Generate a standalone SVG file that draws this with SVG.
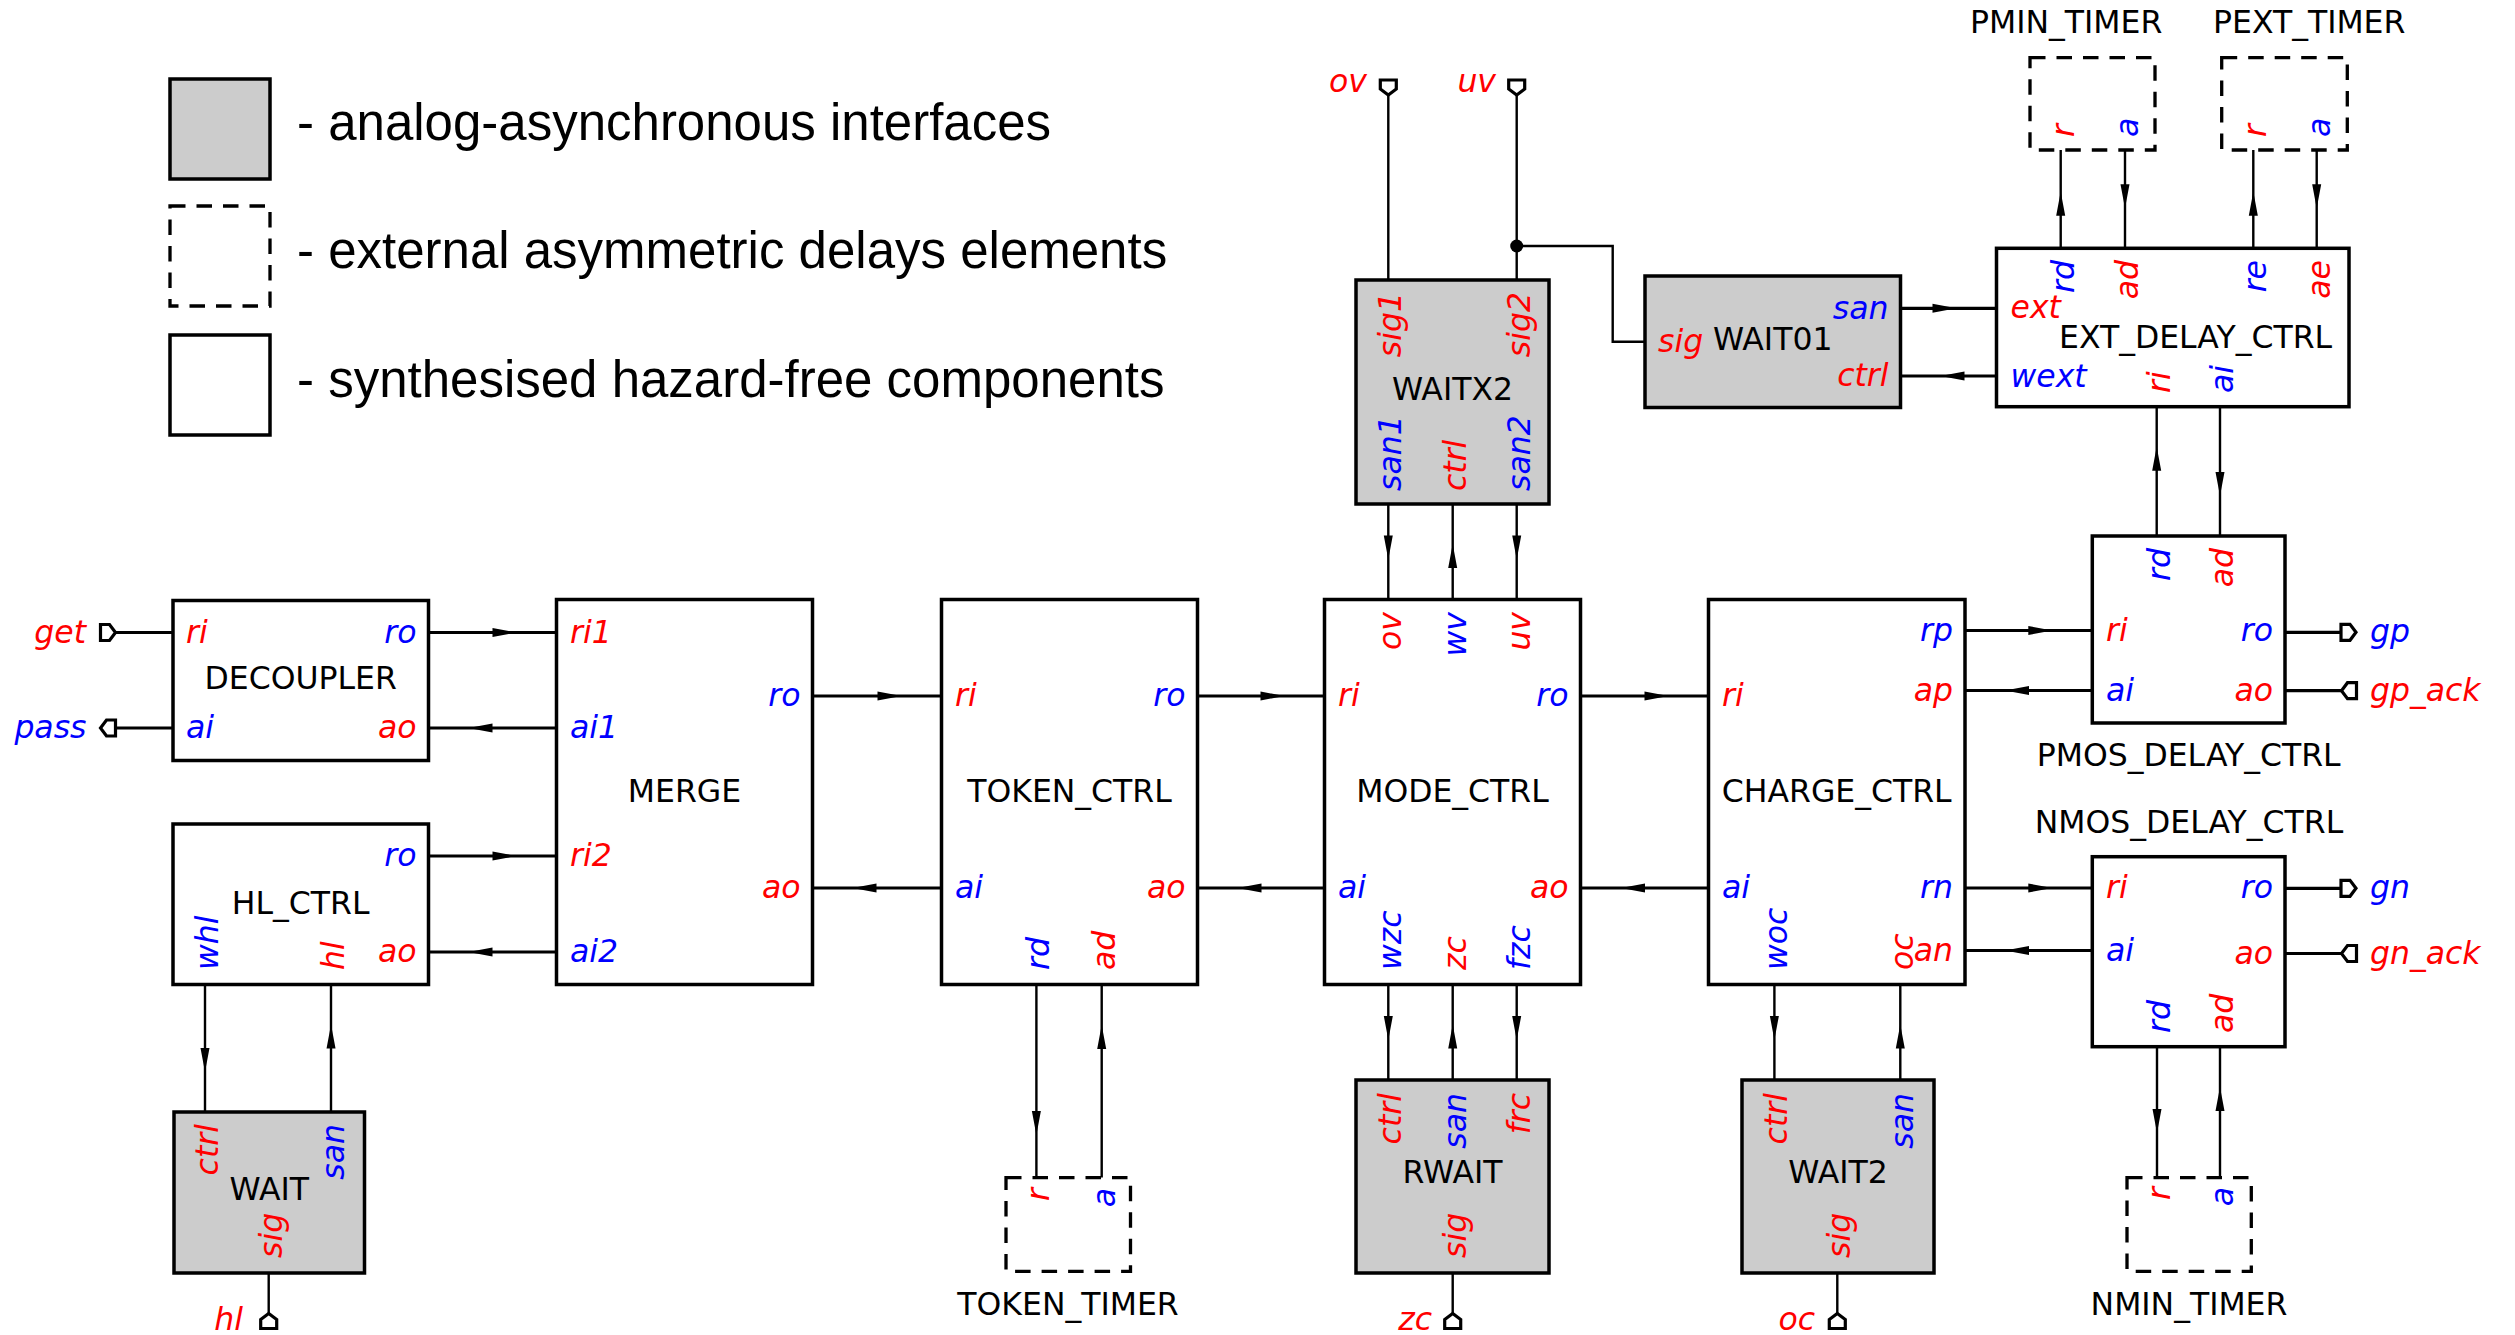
<svg xmlns="http://www.w3.org/2000/svg" xmlns:xlink="http://www.w3.org/1999/xlink" width="2515" height="1335" viewBox="0 0 2515 1335">
<style>
.box{fill:#fff;stroke:#000;stroke-width:3.5}
.g{fill:#ccc}
.d{fill:none;stroke:#000;stroke-width:3.3;stroke-dasharray:15.5 11}
.h{stroke:#000;stroke-width:3.2;fill:none}
.v{stroke:#000;stroke-width:2.4;fill:none}
.p{font-family:'DejaVu Sans',sans-serif;font-style:italic;font-size:31.5px}
.n{font-family:'DejaVu Sans',sans-serif;font-size:31.5px;text-anchor:middle}
.ns{font-family:'DejaVu Sans',sans-serif;font-size:31.5px}
.lg{font-family:'Liberation Sans',Arial,sans-serif;font-size:51px}
.r{fill:#f00}
.b{fill:#00f}
.e{text-anchor:end}
</style>
<defs>
<path id="ah" d="M0,0 L-24,-4.5 L-24,4.5 Z" fill="#000"/>
<path id="pt" d="M0,-8 H9 L15,0 L9,8 H0 Z" fill="#fff" stroke="#000" stroke-width="3.2"/>
</defs>
<rect width="2515" height="1335" fill="#fff"/>

<g id="legend">
<rect class="box g" x="170" y="79" width="100" height="100"/>
<rect class="d" x="170" y="206" width="100" height="100"/>
<rect class="box" x="170" y="335" width="100" height="100"/>
<text class="lg" x="297" y="140">- analog-asynchronous interfaces</text>
<text class="lg" x="297" y="268">- external asymmetric delays elements</text>
<text class="lg" x="297" y="397">- synthesised hazard-free components</text>
</g>

<g id="connectors">
<path class="h" d="M115.5,632.5H173M115.5,728H173M428.5,632.5H556.5M428.5,728H556.5M428.5,856H556.5M428.5,952H556.5M812.5,696H941.5M812.5,888H941.5M1197.5,696H1324.5M1197.5,888H1324.5M1580.5,696H1708.5M1580.5,888H1708.5M1965,630.5H2092.3M1965,690.5H2092.3M1965,888H2092.3M1965,950.5H2092.3M1900.5,308.3H1996.5M1900.5,376H1996.5M2285,632.3H2341M2285,690.7H2342M2285,888.3H2341M2285,953.5H2342"/>
<path class="v" d="M1388.3,95V280M1516.7,95V280M1516.7,246H1612.7V341.7H1645M1388.3,504V599.5M1452.7,504V599.5M1516.7,504V599.5M2060.7,150V248.3M2125,150V248.3M2253.3,150V248.3M2316.7,150V248.3M2156.7,406.7V536M2220,406.7V536M2157,1046.7V1177.7M2220,1046.7V1177.7M205,984.5V1112M331,984.5V1112M268.7,1273V1314M1036.4,984.5V1177.5M1101.7,984.5V1177.5M1388.3,984.5V1080M1452.7,984.5V1080M1516.7,984.5V1080M1452.7,1273V1314M1774.4,984.5V1080M1900.3,984.5V1080M1837.3,1273V1314"/>
<circle cx="1516.7" cy="246" r="6.5" fill="#000"/>
<use xlink:href="#ah" transform="translate(516.5,632.5)"/>
<use xlink:href="#ah" transform="translate(468.5,728) rotate(180)"/>
<use xlink:href="#ah" transform="translate(516.5,856)"/>
<use xlink:href="#ah" transform="translate(468.5,952) rotate(180)"/>
<use xlink:href="#ah" transform="translate(901.5,696)"/>
<use xlink:href="#ah" transform="translate(852.5,888) rotate(180)"/>
<use xlink:href="#ah" transform="translate(1284.5,696)"/>
<use xlink:href="#ah" transform="translate(1237.5,888) rotate(180)"/>
<use xlink:href="#ah" transform="translate(1668.5,696)"/>
<use xlink:href="#ah" transform="translate(1621,888) rotate(180)"/>
<use xlink:href="#ah" transform="translate(2052.3,630.5)"/>
<use xlink:href="#ah" transform="translate(2005,690.5) rotate(180)"/>
<use xlink:href="#ah" transform="translate(2052.3,888)"/>
<use xlink:href="#ah" transform="translate(2005,950.5) rotate(180)"/>
<use xlink:href="#ah" transform="translate(1956.5,308.3)"/>
<use xlink:href="#ah" transform="translate(1940.5,376) rotate(180)"/>
<use xlink:href="#ah" transform="translate(1388.3,559.5) rotate(90)"/>
<use xlink:href="#ah" transform="translate(1452.7,544) rotate(-90)"/>
<use xlink:href="#ah" transform="translate(1516.7,559.5) rotate(90)"/>
<use xlink:href="#ah" transform="translate(2060.7,191.7) rotate(-90)"/>
<use xlink:href="#ah" transform="translate(2125,208.3) rotate(90)"/>
<use xlink:href="#ah" transform="translate(2253.3,191.7) rotate(-90)"/>
<use xlink:href="#ah" transform="translate(2316.7,208.3) rotate(90)"/>
<use xlink:href="#ah" transform="translate(2156.7,446.7) rotate(-90)"/>
<use xlink:href="#ah" transform="translate(2220,496) rotate(90)"/>
<use xlink:href="#ah" transform="translate(2157,1133) rotate(90)"/>
<use xlink:href="#ah" transform="translate(2220,1087) rotate(-90)"/>
<use xlink:href="#ah" transform="translate(205,1072) rotate(90)"/>
<use xlink:href="#ah" transform="translate(331,1024.5) rotate(-90)"/>
<use xlink:href="#ah" transform="translate(1036.4,1135) rotate(90)"/>
<use xlink:href="#ah" transform="translate(1101.7,1025) rotate(-90)"/>
<use xlink:href="#ah" transform="translate(1388.3,1040) rotate(90)"/>
<use xlink:href="#ah" transform="translate(1452.7,1024.5) rotate(-90)"/>
<use xlink:href="#ah" transform="translate(1516.7,1040) rotate(90)"/>
<use xlink:href="#ah" transform="translate(1774.4,1040) rotate(90)"/>
<use xlink:href="#ah" transform="translate(1900.3,1024.5) rotate(-90)"/>
</g>

<g id="ports">
<use xlink:href="#pt" transform="translate(100.5,632.5)"/>
<use xlink:href="#pt" transform="translate(115.5,728) rotate(180)"/>
<use xlink:href="#pt" transform="translate(1388.3,80) rotate(90)"/>
<use xlink:href="#pt" transform="translate(1516.7,80) rotate(90)"/>
<use xlink:href="#pt" transform="translate(268.7,1328.5) rotate(-90)"/>
<use xlink:href="#pt" transform="translate(1452.7,1328.5) rotate(-90)"/>
<use xlink:href="#pt" transform="translate(1837.3,1328.5) rotate(-90)"/>
<use xlink:href="#pt" transform="translate(2341,632.3)"/>
<use xlink:href="#pt" transform="translate(2356.5,690.7) rotate(180)"/>
<use xlink:href="#pt" transform="translate(2341,888.3)"/>
<use xlink:href="#pt" transform="translate(2356.5,953.5) rotate(180)"/>
<text class="p r e" x="86" y="642.5">get</text>
<text class="p b e" x="86.5" y="738">pass</text>
<text class="p r e" x="1367" y="92">ov</text>
<text class="p r e" x="1496" y="92">uv</text>
<text class="p r e" x="243" y="1330">hl</text>
<text class="p r e" x="1432" y="1330">zc</text>
<text class="p r e" x="1815" y="1330">oc</text>
<text class="p b" x="2370" y="642">gp</text>
<text class="p r" x="2370" y="700.7">gp_ack</text>
<text class="p b" x="2370" y="898">gn</text>
<text class="p r" x="2370" y="963.5">gn_ack</text>
</g>

<g id="DECOUPLER">
<rect class="box" x="173" y="600.5" width="255.5" height="160"/>
<text class="n" x="300.7" y="689">DECOUPLER</text>
<text class="p r" x="186" y="642.5">ri</text>
<text class="p b" x="186" y="738">ai</text>
<text class="p b e" x="416.5" y="642.5">ro</text>
<text class="p r e" x="416.5" y="738">ao</text>
</g>

<g id="HL_CTRL">
<rect class="box" x="173" y="824" width="255.5" height="160.5"/>
<text class="n" x="300.7" y="914">HL_CTRL</text>
<text class="p b e" x="416.5" y="866">ro</text>
<text class="p r e" x="416.5" y="962">ao</text>
<text class="p b" transform="translate(218,970) rotate(-90)">whl</text>
<text class="p r" transform="translate(344,970) rotate(-90)">hl</text>
</g>

<g id="WAIT">
<rect class="box g" x="174" y="1112" width="190.5" height="161"/>
<text class="n" x="269.3" y="1200">WAIT</text>
<text class="p r e" transform="translate(218,1124) rotate(-90)">ctrl</text>
<text class="p b e" transform="translate(344,1124) rotate(-90)">san</text>
<text class="p r" transform="translate(282,1258) rotate(-90)">sig</text>
</g>

<g id="MERGE">
<rect class="box" x="556.5" y="599.5" width="256" height="385"/>
<text class="n" x="684.5" y="801.5">MERGE</text>
<text class="p r" x="570" y="642.5">ri1</text>
<text class="p b" x="570" y="738">ai1</text>
<text class="p r" x="570" y="866">ri2</text>
<text class="p b" x="570" y="962">ai2</text>
<text class="p b e" x="800.5" y="706">ro</text>
<text class="p r e" x="800.5" y="898">ao</text>
</g>

<g id="TOKEN_CTRL">
<rect class="box" x="941.5" y="599.5" width="256" height="385"/>
<text class="n" x="1069.5" y="801.5">TOKEN_CTRL</text>
<text class="p r" x="955" y="706">ri</text>
<text class="p b" x="955" y="898">ai</text>
<text class="p b e" x="1185.5" y="706">ro</text>
<text class="p r e" x="1185.5" y="898">ao</text>
<text class="p b" transform="translate(1049.4,970) rotate(-90)">rd</text>
<text class="p r" transform="translate(1114.7,970) rotate(-90)">ad</text>
</g>

<g id="TOKEN_TIMER">
<rect class="d" x="1006" y="1177.7" width="124.5" height="93.6"/>
<text class="p r e" transform="translate(1049.4,1188) rotate(-90)">r</text>
<text class="p b e" transform="translate(1114.7,1188) rotate(-90)">a</text>
<text class="n" x="1068" y="1315">TOKEN_TIMER</text>
</g>

<g id="MODE_CTRL">
<rect class="box" x="1324.5" y="599.5" width="256" height="385"/>
<text class="n" x="1452.5" y="801.5">MODE_CTRL</text>
<text class="p r" x="1338" y="706">ri</text>
<text class="p b" x="1338" y="898">ai</text>
<text class="p b e" x="1568.5" y="706">ro</text>
<text class="p r e" x="1568.5" y="898">ao</text>
<text class="p r e" transform="translate(1401.3,612) rotate(-90)">ov</text>
<text class="p b e" transform="translate(1465.7,612) rotate(-90)">wv</text>
<text class="p r e" transform="translate(1529.7,612) rotate(-90)">uv</text>
<text class="p b" transform="translate(1401.3,970) rotate(-90)">wzc</text>
<text class="p r" transform="translate(1465.7,970) rotate(-90)">zc</text>
<text class="p b" transform="translate(1529.7,970) rotate(-90)">fzc</text>
</g>

<g id="WAITX2">
<rect class="box g" x="1356" y="280" width="193" height="224"/>
<text class="n" x="1452.5" y="400">WAITX2</text>
<text class="p r e" transform="translate(1401.3,292) rotate(-90)">sig1</text>
<text class="p r e" transform="translate(1529.7,292) rotate(-90)">sig2</text>
<text class="p b" transform="translate(1401.3,491) rotate(-90)">san1</text>
<text class="p r" transform="translate(1465.7,491) rotate(-90)">ctrl</text>
<text class="p b" transform="translate(1529.7,491) rotate(-90)">san2</text>
</g>

<g id="WAIT01">
<rect class="box g" x="1645" y="276" width="255.5" height="131.5"/>
<text class="n" x="1772.7" y="350">WAIT01</text>
<text class="p r" x="1658" y="352">sig</text>
<text class="p b e" x="1888.5" y="318.5">san</text>
<text class="p r e" x="1888.5" y="386">ctrl</text>
</g>

<g id="EXT_DELAY_CTRL">
<rect class="box" x="1996.5" y="248.3" width="352.5" height="158.4"/>
<text class="ns" x="2059" y="348.3">EXT_DELAY_CTRL</text>
<text class="p r" x="2010.5" y="318.3">ext</text>
<text class="p b" x="2010.5" y="386.5">wext</text>
<text class="p b e" transform="translate(2073.7,260) rotate(-90)">rd</text>
<text class="p r e" transform="translate(2138,260) rotate(-90)">ad</text>
<text class="p b e" transform="translate(2266.3,260) rotate(-90)">re</text>
<text class="p r e" transform="translate(2329.7,260) rotate(-90)">ae</text>
<text class="p r" transform="translate(2169.7,393) rotate(-90)">ri</text>
<text class="p b" transform="translate(2233,393) rotate(-90)">ai</text>
</g>

<g id="PMIN_TIMER">
<rect class="d" x="2030" y="57.7" width="125" height="92.3"/>
<text class="p r" transform="translate(2073.7,137) rotate(-90)">r</text>
<text class="p b" transform="translate(2138,137) rotate(-90)">a</text>
<text class="ns" x="1970" y="33.3">PMIN_TIMER</text>
</g>

<g id="PEXT_TIMER">
<rect class="d" x="2221.7" y="57.7" width="125.6" height="92.3"/>
<text class="p r" transform="translate(2266.3,137) rotate(-90)">r</text>
<text class="p b" transform="translate(2329.7,137) rotate(-90)">a</text>
<text class="ns" x="2213" y="33.3">PEXT_TIMER</text>
</g>

<g id="CHARGE_CTRL">
<rect class="box" x="1708.5" y="599.5" width="256.5" height="385"/>
<text class="n" x="1836.7" y="801.5">CHARGE_CTRL</text>
<text class="p r" x="1722" y="706">ri</text>
<text class="p b" x="1722" y="898">ai</text>
<text class="p b e" x="1953" y="640.5">rp</text>
<text class="p r e" x="1953" y="700.5">ap</text>
<text class="p b e" x="1953" y="898">rn</text>
<text class="p r e" x="1953" y="960.5">an</text>
<text class="p b" transform="translate(1787.4,970) rotate(-90)">woc</text>
<text class="p r" transform="translate(1913.3,970) rotate(-90)">oc</text>
</g>

<g id="PMOS_DELAY_CTRL">
<rect class="box" x="2092.3" y="536" width="192.7" height="187"/>
<text class="p b e" transform="translate(2170,548) rotate(-90)">rd</text>
<text class="p r e" transform="translate(2233,548) rotate(-90)">ad</text>
<text class="p r" x="2106" y="641">ri</text>
<text class="p b" x="2106" y="700.5">ai</text>
<text class="p b e" x="2273" y="641">ro</text>
<text class="p r e" x="2273" y="700.5">ao</text>
<text class="n" x="2188.7" y="765.7">PMOS_DELAY_CTRL</text>
</g>

<g id="NMOS_DELAY_CTRL">
<rect class="box" x="2092.3" y="856.7" width="192.7" height="190"/>
<text class="n" x="2189" y="833">NMOS_DELAY_CTRL</text>
<text class="p r" x="2106" y="898">ri</text>
<text class="p b" x="2106" y="960.5">ai</text>
<text class="p b e" x="2273" y="898">ro</text>
<text class="p r e" x="2273" y="963.5">ao</text>
<text class="p b" transform="translate(2170,1033) rotate(-90)">rd</text>
<text class="p r" transform="translate(2233,1033) rotate(-90)">ad</text>
</g>

<g id="NMIN_TIMER">
<rect class="d" x="2127" y="1177.7" width="124.3" height="93.6"/>
<text class="p r e" transform="translate(2170,1187) rotate(-90)">r</text>
<text class="p b e" transform="translate(2233,1187) rotate(-90)">a</text>
<text class="n" x="2189" y="1315">NMIN_TIMER</text>
</g>

<g id="RWAIT">
<rect class="box g" x="1356" y="1080" width="193" height="193"/>
<text class="n" x="1452.5" y="1183">RWAIT</text>
<text class="p r e" transform="translate(1401.3,1093) rotate(-90)">ctrl</text>
<text class="p b e" transform="translate(1465.7,1093) rotate(-90)">san</text>
<text class="p r e" transform="translate(1529.7,1093) rotate(-90)">frc</text>
<text class="p r" transform="translate(1465.7,1258) rotate(-90)">sig</text>
</g>

<g id="WAIT2">
<rect class="box g" x="1742" y="1080" width="192" height="193"/>
<text class="n" x="1838" y="1183">WAIT2</text>
<text class="p r e" transform="translate(1787.4,1093) rotate(-90)">ctrl</text>
<text class="p b e" transform="translate(1913.3,1093) rotate(-90)">san</text>
<text class="p r" transform="translate(1850.3,1258) rotate(-90)">sig</text>
</g>
</svg>
